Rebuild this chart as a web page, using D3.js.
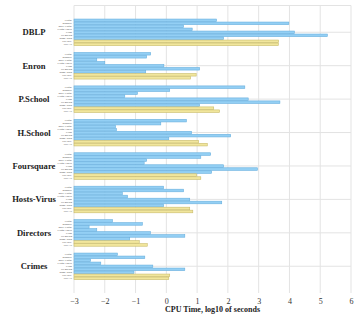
<!DOCTYPE html>
<html>
<head>
<meta charset="utf-8">
<script src="https://cdn.jsdelivr.net/npm/d3@7"></script>
<style>
  body { margin: 0; background: #fff; }
  svg { display: block; font-family: "Liberation Serif", "DejaVu Serif", serif; }
</style>
</head>
<body>
<script>
// datasets (top to bottom)
const datasets = ['DBLP', 'Enron', 'P.School', 'H.School', 'Foursquare', 'Hosts-Virus', 'Directors', 'Crimes'];
// methods inside each group (last two drawn in yellow)
const methods = ['Clique', 'Bipartite', 'Max. Clique', 'Clique Cover', 'CNM', 'HLouvain', 'Rand. Walk', 'HO-Rec.', 'HO-All'];
const highlighted = ['HO-Rec.', 'HO-All'];
// CPU time, log10 of seconds, one row per dataset, one value per method
const dblp       = [1.63, 3.98, 0.56, 0.84, 4.16, 5.23, 1.86, 3.65, 3.64];
const enron      = [-0.51, -0.64, -2.26, -2.0, -0.08, 1.08, -0.67, 0.97, 0.79];
const pschool    = [2.55, 0.11, -0.94, -1.35, 2.66, 3.69, 1.08, 1.54, 1.73];
const hschool    = [0.65, -0.18, -1.65, -1.62, 0.82, 2.09, 0.08, 1.05, 1.33];
const foursquare = [1.44, 1.12, -0.64, -0.72, 1.86, 2.96, 1.47, 0.98, 1.12];
const hostsVirus = [-0.09, 0.56, -1.43, -1.26, 0.76, 1.80, -0.09, 0.76, 0.86];
const directors  = [-1.75, -0.78, -2.51, -2.26, -0.52, 0.60, -1.19, -0.88, -0.62];
const crimes     = [-1.59, -0.70, -2.46, -2.13, -0.44, 0.60, -1.05, 0.11, 0.08];
const values = [dblp, enron, pschool, hschool, foursquare, hostsVirus, directors, crimes];
const xTicks = [-3, -2, -1, 0, 1, 2, 3, 4, 5, 6];

const width = 360, height = 320;
const margin = { top: 5.5, right: 9, bottom: 27, left: 74 };

const svg = d3.select('body').append('svg').attr('width', width).attr('height', height);

const x = d3.scaleLinear().domain([-3, 6]).range([margin.left, width - margin.right]);
const y = d3.scalePoint().domain(datasets).range([margin.top, height - margin.bottom]).padding(0.8);
const groupH = 27;
const inner = d3.scaleBand().domain(methods).range([-groupH / 2, groupH / 2]);

// grid
const grid = svg.append('g').attr('stroke', '#e3e3e3').attr('stroke-width', 1);
grid.selectAll('.vg').data(xTicks).enter().append('line')
  .attr('x1', d => x(d)).attr('x2', d => x(d))
  .attr('y1', margin.top).attr('y2', height - margin.bottom);
grid.selectAll('.hg').data(datasets).enter().append('line')
  .attr('x1', margin.left).attr('x2', width - margin.right)
  .attr('y1', d => y(d)).attr('y2', d => y(d));
grid.append('line')
  .attr('x1', margin.left).attr('x2', width - margin.right)
  .attr('y1', margin.top).attr('y2', margin.top);

// bars
const rows = [];
datasets.forEach((ds, i) => {
  methods.forEach((m, j) => rows.push({ ds, m, v: values[i][j] }));
});

svg.append('g').selectAll('rect').data(rows).enter().append('rect')
  .attr('x', x(-3))
  .attr('y', d => y(d.ds) + inner(d.m) + 0.3)
  .attr('width', d => x(d.v) - x(-3))
  .attr('height', inner.bandwidth() - 0.4)
  .attr('fill', d => highlighted.includes(d.m) ? '#f1e69c' : '#93cff4')
  .attr('stroke', d => highlighted.includes(d.m) ? '#c9bb6c' : '#69b0de')
  .attr('stroke-width', 0.6);

// method labels
svg.append('g').selectAll('text').data(rows).enter().append('text')
  .attr('x', margin.left - 2)
  .attr('y', d => y(d.ds) + inner(d.m) + inner.bandwidth() / 2)
  .attr('dy', '0.35em')
  .attr('text-anchor', 'end')
  .attr('font-size', 2.7)
  .attr('fill', '#333')
  .text(d => d.m);

// dataset labels
svg.append('g').selectAll('text').data(datasets).enter().append('text')
  .attr('x', 34)
  .attr('y', d => y(d))
  .attr('dy', '0.35em')
  .attr('text-anchor', 'middle')
  .attr('font-size', 8.6)
  .attr('font-weight', 'bold')
  .attr('fill', '#222')
  .text(d => d);

// x axis
const xAxis = svg.append('g')
  .attr('transform', `translate(0,${height - margin.bottom})`)
  .call(d3.axisBottom(x).tickValues(xTicks).tickSize(0).tickPadding(5).tickFormat(d3.format('d')));
xAxis.select('.domain').remove();
xAxis.selectAll('text')
  .attr('font-family', '"Liberation Serif", serif')
  .attr('font-size', 8)
  .attr('fill', '#333');

svg.append('text')
  .attr('x', (x(-3) + x(6)) / 2)
  .attr('y', 312)
  .attr('text-anchor', 'middle')
  .attr('font-size', 8)
  .attr('font-weight', 'bold')
  .attr('fill', '#222')
  .text('CPU Time, log10 of seconds');
</script>
</body>
</html>
